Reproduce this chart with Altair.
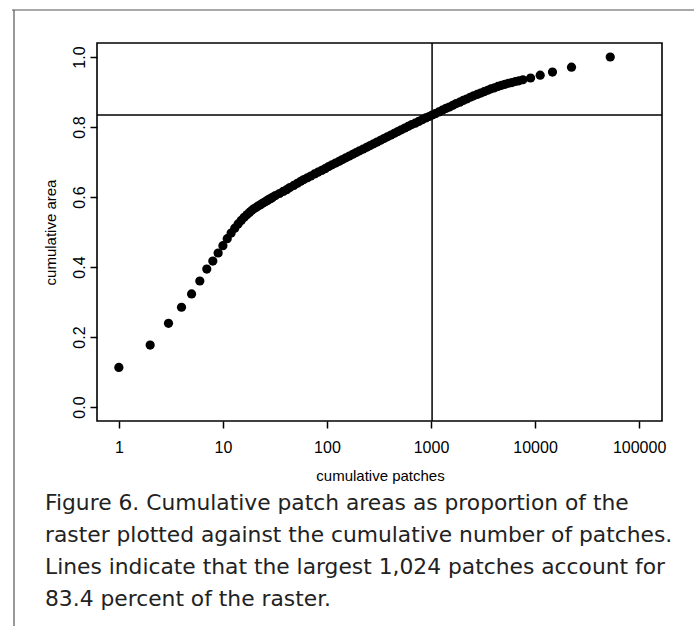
import altair as alt
import pandas as pd

# cumulative number of patches (x) and cumulative proportion of raster area (y)
patches = [1, 2, 3, 4, 5, 6, 7, 8, 9, 10,
           11, 12, 13, 14, 15, 16, 17, 18, 19, 20,
           21, 22, 23, 24, 25, 26, 27, 28, 29, 30,
           32, 35, 38, 41, 44, 48, 52, 56, 60, 65,
           70, 76, 82, 89, 96, 104, 112, 121, 131, 141,
           152, 164, 177, 191, 206, 223, 241, 260, 281, 303,
           327, 353, 381, 412, 445, 480, 518, 560, 605, 653,
           705, 762, 823, 889, 960, 1024, 1100, 1190, 1285, 1390,
           1500, 1620, 1750, 1890, 2040, 2200, 2380, 2570, 2780, 3000,
           3240, 3500, 3780, 4080, 4400, 4760, 5140, 5550, 6000, 6480,
           7000, 7640, 9060, 11200, 14700, 22400, 52800]
area = [0.113, 0.177, 0.239, 0.285, 0.323, 0.360, 0.394, 0.417, 0.440, 0.461,
        0.481, 0.497, 0.511, 0.523, 0.533, 0.542, 0.549, 0.556, 0.562, 0.567,
        0.571, 0.575, 0.578, 0.582, 0.585, 0.588, 0.591, 0.594, 0.596, 0.599,
        0.604, 0.610, 0.616, 0.621, 0.627, 0.633, 0.639, 0.645, 0.650, 0.655,
        0.660, 0.666, 0.671, 0.676, 0.681, 0.687, 0.692, 0.697, 0.702, 0.707,
        0.712, 0.717, 0.722, 0.727, 0.732, 0.737, 0.742, 0.747, 0.752, 0.757,
        0.762, 0.767, 0.772, 0.777, 0.782, 0.787, 0.792, 0.797, 0.802, 0.807,
        0.811, 0.816, 0.821, 0.826, 0.830, 0.834, 0.838, 0.843, 0.848, 0.853,
        0.857, 0.862, 0.867, 0.871, 0.876, 0.880, 0.885, 0.889, 0.893, 0.897,
        0.901, 0.905, 0.909, 0.912, 0.916, 0.919, 0.922, 0.925, 0.927, 0.930,
        0.932, 0.935, 0.940, 0.948, 0.957, 0.971, 1.000]

x_ticks = [1, 10, 100, 1000, 10000, 100000]
y_ticks = [0.0, 0.2, 0.4, 0.6, 0.8, 1.0]
cut_patches = [1024]
cut_area = [0.834]

x_title = "cumulative patches"
y_title = "cumulative area"
caption_lines = [
    "Figure 6. Cumulative patch areas as proportion of the",
    "raster plotted against the cumulative number of patches.",
    "Lines indicate that the largest 1,024 patches account for",
    "83.4 percent of the raster.",
]

df = pd.DataFrame({"patches": patches, "area": area})
df_v = pd.DataFrame({"patches": cut_patches})
df_h = pd.DataFrame({"area": cut_area})
df_one = pd.DataFrame({"k": [0]})

W, H = 565, 378
LEFT, TOP = 97, 43

xscale = alt.Scale(type="log", domain=[0.6166, 165959], nice=False)
yscale = alt.Scale(domain=[-0.04, 1.04], nice=False, zero=False)

FONT = "Liberation Sans"

xaxis = alt.Axis(
    values=x_ticks, format="d", title=x_title, grid=False, domain=False,
    tickSize=7, tickWidth=1.5, tickColor="black",
    labelFont=FONT, labelFontSize=16, labelColor="black", labelPadding=11,
    labelFlush=False, labelOverlap=False,
    titleFont=FONT, titleFontSize=15, titleFontWeight="normal", titleColor="black",
    titleX=283, titleY=54, titleAlign="center", titleBaseline="middle",
)
yaxis = alt.Axis(
    values=y_ticks, format=".1f", title=y_title, grid=False, domain=False,
    tickSize=7, tickWidth=1.5, tickColor="black",
    labelFont=FONT, labelFontSize=16, labelColor="black", labelPadding=6,
    labelAngle=270, labelAlign="center", labelBaseline="alphabetic",
    labelFlush=False, labelOverlap=False,
    titleFont=FONT, titleFontSize=15, titleFontWeight="normal", titleColor="black",
    titleAngle=270, titleX=-47, titleY=189, titleAlign="center", titleBaseline="middle",
)

points = alt.Chart(df).mark_circle(size=85, color="black", opacity=1).encode(
    x=alt.X("patches:Q", scale=xscale, axis=xaxis),
    y=alt.Y("area:Q", scale=yscale, axis=yaxis),
)

vline = alt.Chart(df_v).mark_rule(color="black", strokeWidth=1.5).encode(
    x=alt.X("patches:Q", scale=xscale, axis=xaxis),
)
hline = alt.Chart(df_h).mark_rule(color="black", strokeWidth=1.5).encode(
    y=alt.Y("area:Q", scale=yscale, axis=yaxis),
)

frame_top = alt.Chart(df_one).mark_rule(color="#555555", strokeWidth=1.2).encode(
    x=alt.value(12 - LEFT), x2=alt.value(694 - LEFT), y=alt.value(10 - TOP)
)
frame_left = alt.Chart(df_one).mark_rule(color="#555555", strokeWidth=1.2).encode(
    x=alt.value(14 - LEFT), y=alt.value(10 - TOP), y2=alt.value(626 - TOP)
)

caption = alt.Chart(df_one).mark_text(
    align="left", baseline="alphabetic", font="DejaVu Sans", fontSize=21.8,
    lineHeight=32, color="#222222",
).encode(
    x=alt.value(45 - LEFT), y=alt.value(510 - TOP), text=alt.value(caption_lines)
)

chart = alt.layer(frame_top, frame_left, hline, vline, points, caption).properties(
    width=W, height=H,
    padding={"left": LEFT, "top": TOP, "right": 694 - LEFT - W, "bottom": 626 - TOP - H},
    autosize=alt.AutoSizeParams(type="none"),
    background="white",
).configure_view(stroke="black", strokeWidth=1.6)

chart.save("out.html", embed_options={"renderer": "svg", "actions": False})
